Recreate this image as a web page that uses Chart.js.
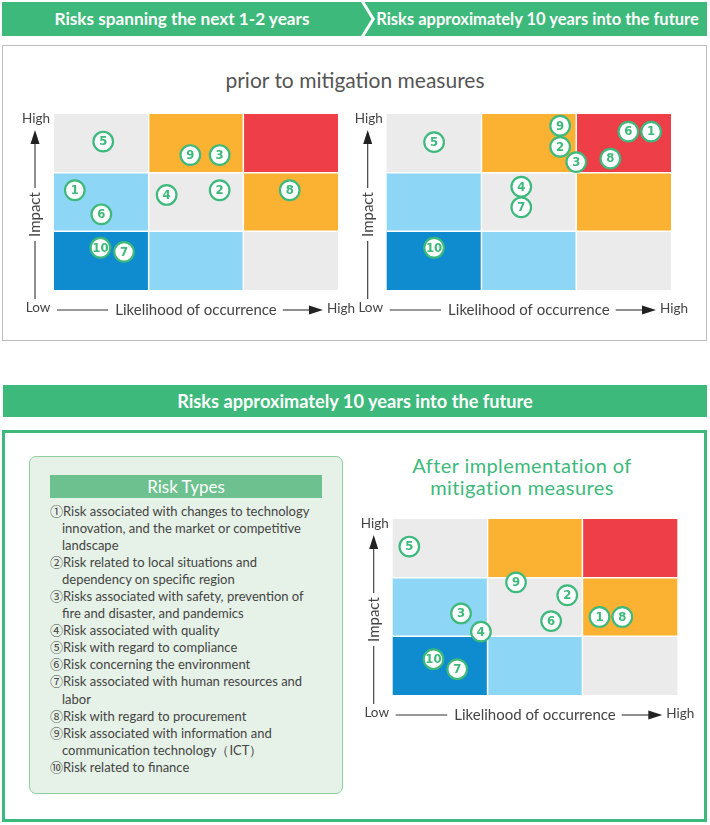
<!DOCTYPE html>
<html><head><meta charset="utf-8">
<script src="https://cdn.jsdelivr.net/npm/chart.js@4/dist/chart.umd.min.js"></script>
<style>
body{margin:0;width:710px;height:825px;background:#fff;position:relative;overflow:hidden;font-family:Lato,"Noto Sans",sans-serif;}
.abs{position:absolute;box-sizing:border-box;}
.bt{color:#fff;font-weight:bold;font-size:16.5px;text-align:center;line-height:34px;white-space:nowrap;}
#legend div{white-space:nowrap;height:17.1px;overflow:visible;}
#legend .c{padding-left:12px;}
#legend .n{font-family:"Noto Sans CJK JP",sans-serif;font-size:13px;line-height:10px;}
</style></head>
<body>
<svg class="abs" style="left:0;top:0" width="710" height="40">
  <polygon points="2,2 361,2 371.5,19 361,36 2,36" fill="#3db97b"/>
  <polygon points="364.5,2 707,2 707,36 364.5,36 375,19" fill="#3db97b"/>
</svg>
<div class="abs bt" style="left:2px;top:2px;width:360px;font-size:17.2px;">Risks spanning the next 1-2 years</div>
<div class="abs bt" style="left:368px;top:2px;width:339px;">Risks approximately 10 years into the future</div>

<div class="abs" style="left:2px;top:45px;width:705px;height:296px;border:1px solid #bdbdbd;"></div>
<div class="abs" style="left:0;top:65px;width:710px;height:30px;line-height:30px;text-align:center;font-size:21px;color:#555;">prior to mitigation measures</div>

<div class="abs bt" style="left:3px;top:385px;width:704px;height:32px;line-height:32px;background:#3db97b;font-size:18.2px;">Risks approximately 10 years into the future</div>

<div class="abs" style="left:2px;top:430px;width:705px;height:392px;border:3px solid #3db97b;"></div>

<div class="abs" style="left:29px;top:456px;width:314px;height:338px;border:1.5px solid #8fcf9f;background:#e6f2e7;border-radius:7px;"></div>
<div class="abs" style="left:50px;top:475px;width:272px;height:23px;line-height:23px;background:#6cc18e;color:#fff;text-align:center;font-size:17px;">Risk Types</div>
<div id="legend" class="abs" style="left:50px;top:502.5px;font-size:13px;line-height:17.1px;color:#444;"></div>

<div class="abs" style="left:372px;top:454px;width:300px;text-align:center;font-size:20px;line-height:22px;color:#3db97b;letter-spacing:0.4px;">After implementation of<br>mitigation measures</div>

<canvas id="c1" class="abs" width="360" height="230" style="left:0;top:100px;"></canvas>
<canvas id="c2" class="abs" width="360" height="230" style="left:345px;top:100px;"></canvas>
<canvas id="c3" class="abs" width="355" height="220" style="left:350px;top:505px;"></canvas>

<script>
// ---- data ----
const riskLabels = ['1','2','3','4','5','6','7','8','9','10'];
// Risks spanning the next 1-2 years (prior to mitigation)
const nearX = [0.22, 1.75, 1.75, 1.19, 0.52, 0.50, 0.74, 2.49, 1.44, 0.49];
const nearY = [1.70, 1.70, 2.30, 1.62, 2.53, 1.29, 0.65, 1.70, 2.30, 0.72];
// Risks approx. 10 years into the future (prior to mitigation)
const futureX = [2.79, 1.83, 2.00, 1.42, 0.50, 2.55, 1.42, 2.36, 1.83, 0.50];
const futureY = [2.70, 2.44, 2.18, 1.76, 2.52, 2.70, 1.41, 2.24, 2.80, 0.72];
// Risks approx. 10 years into the future (after mitigation)
const afterX = [2.18, 1.84, 0.72, 0.93, 0.175, 1.67, 0.68, 2.42, 1.30, 0.43];
const afterY = [1.33, 1.70, 1.39, 1.08, 2.53, 1.26, 0.44, 1.33, 1.92, 0.61];
// axis texts
const yAxisTitle = 'Impact';
const xAxisTitle = 'Likelihood of occurrence';
const highText = 'High', lowText = 'Low';
// legend: [circled number, text, continuation line?]
const legendLines = [
 ['①', 'Risk associated with changes to technology', false],
 ['', 'innovation, and the market or competitive', true],
 ['', 'landscape', true],
 ['②', 'Risk related to local situations and', false],
 ['', 'dependency on specific region', true],
 ['③', 'Risks associated with safety, prevention of', false],
 ['', 'fire and disaster, and pandemics', true],
 ['④', 'Risk associated with quality', false],
 ['⑤', 'Risk with regard to compliance', false],
 ['⑥', 'Risk concerning the environment', false],
 ['⑦', 'Risk associated with human resources and', false],
 ['', 'labor', true],
 ['⑧', 'Risk with regard to procurement', false],
 ['⑨', 'Risk associated with information and', false],
 ['', 'communication technology（ICT）', true],
 ['⑩', 'Risk related to finance', false]
];
// cell colours, rows from bottom (low impact) to top
const cellColors = [
 ['#0e8ccf','#8ed6f6','#ebebeb'],
 ['#8ed6f6','#ebebeb','#fbb233'],
 ['#ebebeb','#fbb233','#ee3f48']
];
const GREEN = '#3db97b';

const leg = document.getElementById('legend');
legendLines.forEach(([n, t, cont]) => {
  const d = document.createElement('div');
  if (cont) d.className = 'c';
  if (n) { const s = document.createElement('span'); s.className = 'n'; s.textContent = n; d.appendChild(s); }
  d.appendChild(document.createTextNode(t));
  leg.appendChild(d);
});

const matrixPlugin = {
  id: 'matrix',
  beforeDatasetsDraw(chart) {
    const {ctx, scales: {x, y}} = chart;
    ctx.save();
    for (let r = 0; r < 3; r++) for (let c = 0; c < 3; c++) {
      const x0 = x.getPixelForValue(c), x1 = x.getPixelForValue(c + 1);
      const y0 = y.getPixelForValue(r + 1), y1 = y.getPixelForValue(r);
      ctx.fillStyle = cellColors[r][c];
      ctx.fillRect(x0, y0, x1 - x0, y1 - y0);
    }
    ctx.strokeStyle = '#fff'; ctx.lineWidth = 1.5;
    for (let i = 1; i < 3; i++) {
      const px = x.getPixelForValue(i), py = y.getPixelForValue(i);
      ctx.beginPath(); ctx.moveTo(px, y.getPixelForValue(3)); ctx.lineTo(px, y.getPixelForValue(0)); ctx.stroke();
      ctx.beginPath(); ctx.moveTo(x.getPixelForValue(0), py); ctx.lineTo(x.getPixelForValue(3), py); ctx.stroke();
    }
    ctx.restore();
  },
  afterDatasetsDraw(chart) {
    const {ctx} = chart;
    const meta = chart.getDatasetMeta(0);
    ctx.save();
    ctx.fillStyle = GREEN;
    ctx.font = "bold 13px 'Liberation Sans Narrow', 'DejaVu Sans Condensed', Lato, sans-serif";
    ctx.textAlign = 'center'; ctx.textBaseline = 'middle';
    meta.data.forEach((pt, i) => {
      ctx.fillText(riskLabels[i], pt.x, pt.y + 0.5);
    });
    ctx.restore();
  },
  afterDraw(chart) {
    const {ctx, chartArea: a} = chart;
    ctx.save();
    ctx.strokeStyle = '#333'; ctx.fillStyle = '#222'; ctx.lineWidth = 1.1;
    const ax = a.left - 19;
    // vertical arrow
    const tip = a.top + 16, bot = a.bottom + 9;
    ctx.beginPath(); ctx.moveTo(ax, bot); ctx.lineTo(ax, tip + 10); ctx.stroke();
    ctx.beginPath(); ctx.moveTo(ax, tip); ctx.lineTo(ax - 4.5, tip + 14); ctx.lineTo(ax + 4.5, tip + 14); ctx.closePath(); ctx.fill();
    // horizontal arrow
    const hy = a.bottom + 20;
    const cx = (a.left + a.right) / 2;
    ctx.font = "15px Lato, 'Noto Sans', sans-serif";
    const tw = ctx.measureText(xAxisTitle).width;
    ctx.beginPath(); ctx.moveTo(a.left + 3, hy); ctx.lineTo(cx - tw / 2 - 7, hy); ctx.stroke();
    const htip = a.right - 15;
    ctx.beginPath(); ctx.moveTo(cx + tw / 2 + 6, hy); ctx.lineTo(htip - 10, hy); ctx.stroke();
    ctx.beginPath(); ctx.moveTo(htip, hy); ctx.lineTo(htip - 14, hy - 4.5); ctx.lineTo(htip - 14, hy + 4.5); ctx.closePath(); ctx.fill();
    // texts
    ctx.fillStyle = '#444';
    ctx.textBaseline = 'middle'; ctx.textAlign = 'center';
    ctx.fillText(xAxisTitle, cx, hy);
    ctx.font = "13.5px Lato, 'Noto Sans', sans-serif";
    ctx.fillText(highText, ax + 1, a.top + 5);
    ctx.fillText(lowText, a.left - 16, a.bottom + 18);
    ctx.textAlign = 'left';
    ctx.fillText(highText, a.right - 11, a.bottom + 19);
    // Impact
    ctx.font = "15px Lato, 'Noto Sans', sans-serif";
    const iw = ctx.measureText(yAxisTitle).width;
    const iy = (tip + bot) / 2;
    ctx.translate(ax, iy); ctx.rotate(-Math.PI / 2);
    ctx.fillStyle = '#fff'; ctx.fillRect(-iw / 2 - 4, -8, iw + 8, 16);
    ctx.fillStyle = '#444'; ctx.textAlign = 'center';
    ctx.fillText(yAxisTitle, 0, 0.5);
    ctx.restore();
  }
};

function makeMatrix(id, xs, ys, pad) {
  new Chart(document.getElementById(id), {
    type: 'scatter',
    data: { datasets: [{
      data: xs.map((v, i) => ({x: v, y: ys[i]})),
      pointRadius: 9.8, pointBorderWidth: 2.2,
      pointBackgroundColor: '#fff', pointBorderColor: GREEN,
      clip: false
    }]},
    options: {
      responsive: false, animation: false, events: [],
      layout: { padding: pad },
      plugins: { legend: {display: false}, tooltip: {enabled: false} },
      scales: {
        x: {type: 'linear', min: 0, max: 3, display: false},
        y: {type: 'linear', min: 0, max: 3, display: false}
      }
    },
    plugins: [matrixPlugin]
  });
}
makeMatrix('c1', nearX, nearY, {left: 54, right: 22, top: 14, bottom: 40});
makeMatrix('c2', futureX, futureY, {left: 41.7, right: 34, top: 14, bottom: 40});
makeMatrix('c3', afterX, afterY, {left: 42.7, right: 27.7, top: 14, bottom: 30});
</script>
</body></html>
